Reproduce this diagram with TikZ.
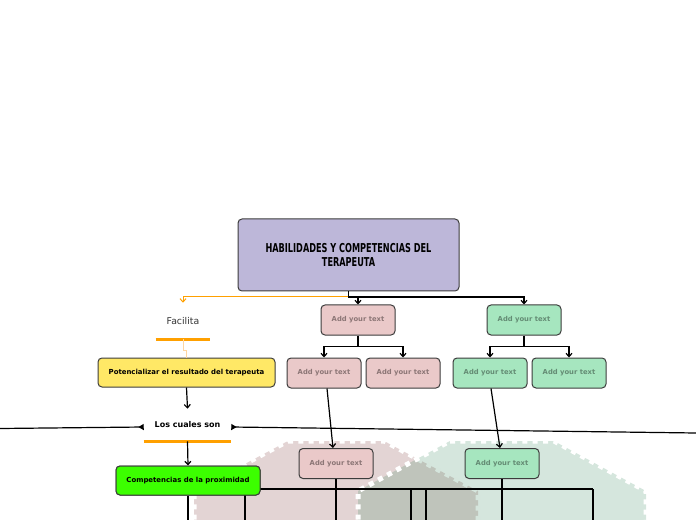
\documentclass[tikz,border=0pt]{standalone}
\usepackage{fontspec}
\setmainfont{DejaVu Sans}
\newfontfamily\titlefont{DejaVu Sans Condensed}[FakeStretch=0.74]
\usetikzlibrary{arrows.meta}

\definecolor{titlefill}{RGB}{189,183,217}
\definecolor{pinkfill}{RGB}{234,201,201}
\definecolor{pinktext}{RGB}{140,118,118}
\definecolor{greenfill}{RGB}{166,230,191}
\definecolor{greentext}{RGB}{100,140,116}
\definecolor{yellowfill}{RGB}{255,232,102}
\definecolor{limefill}{RGB}{60,255,0}
\definecolor{boxline}{RGB}{60,60,60}
\definecolor{accent}{RGB}{255,160,0}
\definecolor{softaccent}{RGB}{255,214,160}
\definecolor{blobpink}{RGB}{227,212,212}
\definecolor{blobgreen}{RGB}{64,141,100}

\tikzset{
  box/.style={draw=boxline, line width=0.75pt, rounded corners=3pt, align=center, inner sep=1pt},
  pinkbox/.style={box, fill=pinkfill, text=pinktext, minimum width=55.5pt, minimum height=22.5pt,
    font=\fontsize{5.1}{6}\selectfont\bfseries},
  greenbox/.style={pinkbox, fill=greenfill, text=greentext},
  limebox/.style={box, fill=limefill, minimum width=108pt, minimum height=21.75pt,
    font=\fontsize{5.2}{6}\selectfont\bfseries},
  conn/.style={line width=0.9pt, -{Straight Barb[length=2.5pt,width=4.5pt]}},
  link/.style={line width=0.9pt},
  side/.style={line width=0.9pt, {Triangle[reversed,length=4pt,width=4.5pt]}-},
  underline/.style={accent, line width=2.25pt},
  blob/.style={draw=white, line width=3.75pt, dash pattern=on 3.75pt off 4pt}
}

\begin{document}
\begin{tikzpicture}[x=0.75pt, y=-0.75pt]
\useasboundingbox (0,0) rectangle (696,520);

% background areas
\fill[blobpink] (288,441) -- (384,441) -- (478,491) -- (478,530) -- (194,530) -- (194,491) -- cycle;
\draw[blob] (288,441) -- (384,441) -- (478,491) -- (478,530) (194,530) -- (194,491) -- (288,441);
\fill[blobgreen, fill opacity=0.22] (450,441) -- (554,441) -- (646,491) -- (646,530) -- (358,530) -- (358,491) -- cycle;
\draw[blob] (450,441) -- (554,441) -- (646,491) -- (646,530) (358,530) -- (358,491) -- (450,441);

% nodes
\node[box, fill=titlefill, minimum width=165.75pt, minimum height=54pt,
  font=\titlefont\bfseries\fontsize{9.2}{10.5}\selectfont] (title) at (348.5,255) {HABILIDADES Y COMPETENCIAS DEL\\TERAPEUTA};

\node[pinkbox] (p1) at (358,320) {Add your text};
\node[pinkbox] (pc1) at (324,373) {Add your text};
\node[pinkbox] (pc2) at (403,373) {Add your text};
\node[pinkbox] (p3) at (336,463.5) {Add your text};

\node[greenbox] (g1) at (524,320) {Add your text};
\node[greenbox] (gc1) at (490,373) {Add your text};
\node[greenbox] (gc2) at (569,373) {Add your text};
\node[greenbox] (g3) at (502,463.5) {Add your text};

\node[inner sep=0, minimum width=40.5pt, minimum height=27pt, text=black!80,
  font=\fontsize{7}{8}\selectfont] (fac) at (183,321) {Facilita};
\node[box, fill=yellowfill, minimum width=132.75pt, minimum height=21.75pt,
  font=\fontsize{5.2}{6}\selectfont\bfseries] (yel) at (186.5,372.5) {Potencializar el resultado del terapeuta};
\node[inner sep=0, minimum width=65.25pt, minimum height=24pt,
  font=\fontsize{6}{7}\selectfont\bfseries] (los) at (187.5,425) {Los cuales son};
\node[limebox] (comp) at (188,480.5) {Competencias de la proximidad};

\draw[underline] (fac.south west) -- (fac.south east);
\draw[underline] (los.south west) -- (los.south east);

% connectors
\coordinate (split) at (348.5,297);
\coordinate (farL) at (0,428.5);
\coordinate (farR) at (696,433);
\coordinate (barL) at (245,489);
\coordinate (barR) at (593,489);

\draw[accent, line width=0.75pt, -{Straight Barb[length=2.5pt,width=4.5pt]}] (split) -| (fac.north);
\draw[softaccent, line width=0.75pt] (fac.south) -- ++(0,11) -| (yel.north);
\draw[conn] (title.south) -- (split) -| (g1.north);
\draw[conn] (split -| p1.north) -- (p1.north);

\draw[conn] (p1.south) -- ++(0,11) -| (pc1.north);
\draw[conn] (p1.south) ++(0,11) -| (pc2.north);
\draw[conn] (g1.south) -- ++(0,11) -| (gc1.north);
\draw[conn] (g1.south) ++(0,11) -| (gc2.north);

\draw[conn] ([xshift=2.25pt]pc1.south) -- ([xshift=-2.25pt]p3.north);
\draw[conn] ([xshift=0.75pt]gc1.south) -- ([xshift=-1.5pt]g3.north);

\draw[conn] (yel.south) -- (los.north);
\draw[conn] (los.south) -- (comp.north);
\draw[side] ([yshift=-1.5pt]los.west) -- (farL);
\draw[side] ([yshift=-1.5pt]los.east) -- (farR);

\draw[link] (barL) -- (barR);
\foreach \x in {245,411,426,593}
  \draw[link] (\x,489) -- (\x,522);
\draw[link] (comp.south) -- ++(0,27);
\draw[link] (p3.south) -- ++(0,44);
\draw[link] (g3.south) -- ++(0,44);

% box over the bar
\node[limebox] at (comp) {Competencias de la proximidad};
\end{tikzpicture}
\end{document}
